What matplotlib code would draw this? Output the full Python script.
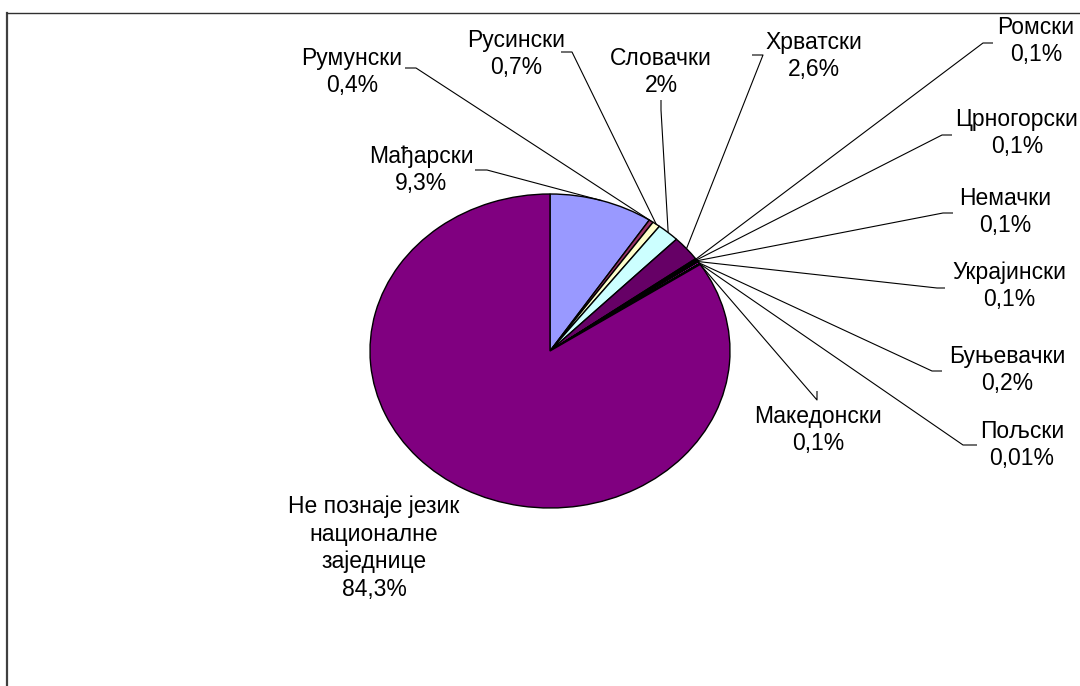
import matplotlib
matplotlib.use("Agg")
import matplotlib.pyplot as plt
import numpy as np

# data
languages = ['Мађарски', 'Румунски', 'Русински', 'Словачки', 'Хрватски', 'Ромски',
             'Црногорски', 'Немачки', 'Украјински', 'Буњевачки', 'Пољски',
             'Македонски', 'Не познаје језик\nнационалне\nзаједнице']
shares = [9.3, 0.4, 0.7, 2, 2.6, 0.1, 0.1, 0.1, 0.1, 0.2, 0.01, 0.1, 84.3]
colors = ['#9999FF', '#993366', '#FFFFCC', '#CCFFFF', '#660066', '#FF8080',
          '#0066CC', '#CCCCFF', '#000080', '#FF00FF', '#FFFF00', '#00FFFF', '#800080']

# layout (pixels): label centre, leader elbow, leader end next to the label
label_pos = [(421, 170), (352, 72), (516, 54), (661, 72), (814, 56), (1036, 41),
             (1017, 133), (1005, 212), (1009, 286), (1007, 370), (1022, 445),
             (818, 430), (374, 548)]
leader = [((487, 170), (475, 170)), ((416, 68), (405, 68)), ((572, 52), (561, 52)),
          ((661, 110), (661, 100)), ((763, 55), (752, 55)), ((983, 43), (993, 43)),
          ((942, 135), (952, 135)), ((943, 213), (953, 213)), ((937, 288), (945, 288)),
          ((932, 371), (942, 371)), ((963, 445), (977, 445)), ((817, 400), (817, 391)),
          None]

W, H = 1080, 686
cx, cy, rx, ry = 550, 351, 180, 157


def P(x, y):
    return (x - cx) / rx, (cy - y) / ry


plt.rcParams['font.family'] = ['Liberation Sans', 'DejaVu Sans']
fig = plt.figure(figsize=(W / 100, H / 100), dpi=100)
ax = fig.add_axes([0, 0, 1, 1])

wedges, _ = ax.pie(shares, colors=colors, startangle=90, counterclock=False,
                   wedgeprops=dict(edgecolor='black', linewidth=1.0))
ax.set_aspect('auto')
ax.set_xlim(P(0, 0)[0], P(W, 0)[0])
ax.set_ylim(P(0, H)[1], P(0, 0)[1])
ax.axis('off')

for i, w in enumerate(wedges):
    pct = f"{shares[i]:g}".replace('.', ',') + '%'
    tx, ty = P(*label_pos[i])
    ax.text(tx, ty, languages[i] + '\n' + pct, ha='center', va='center',
            fontsize=16.5, linespacing=1.25, color='black')
    if leader[i] is not None:
        th = np.deg2rad((w.theta1 + w.theta2) / 2)
        e1 = P(*leader[i][0])
        e2 = P(*leader[i][1])
        ax.plot([np.cos(th), e1[0], e2[0]], [np.sin(th), e1[1], e2[1]],
                color='black', linewidth=0.8, solid_capstyle='butt')

# chart area frame (left and top edges only are visible)
fig.add_artist(plt.Line2D([7 / W, 7 / W], [0, 1 - 13 / H], transform=fig.transFigure,
                          color='#404040', linewidth=1.6))
fig.add_artist(plt.Line2D([7 / W, 1], [1 - 13 / H, 1 - 13 / H], transform=fig.transFigure,
                          color='#303030', linewidth=1.0))

fig.savefig('out.png', dpi=100)
